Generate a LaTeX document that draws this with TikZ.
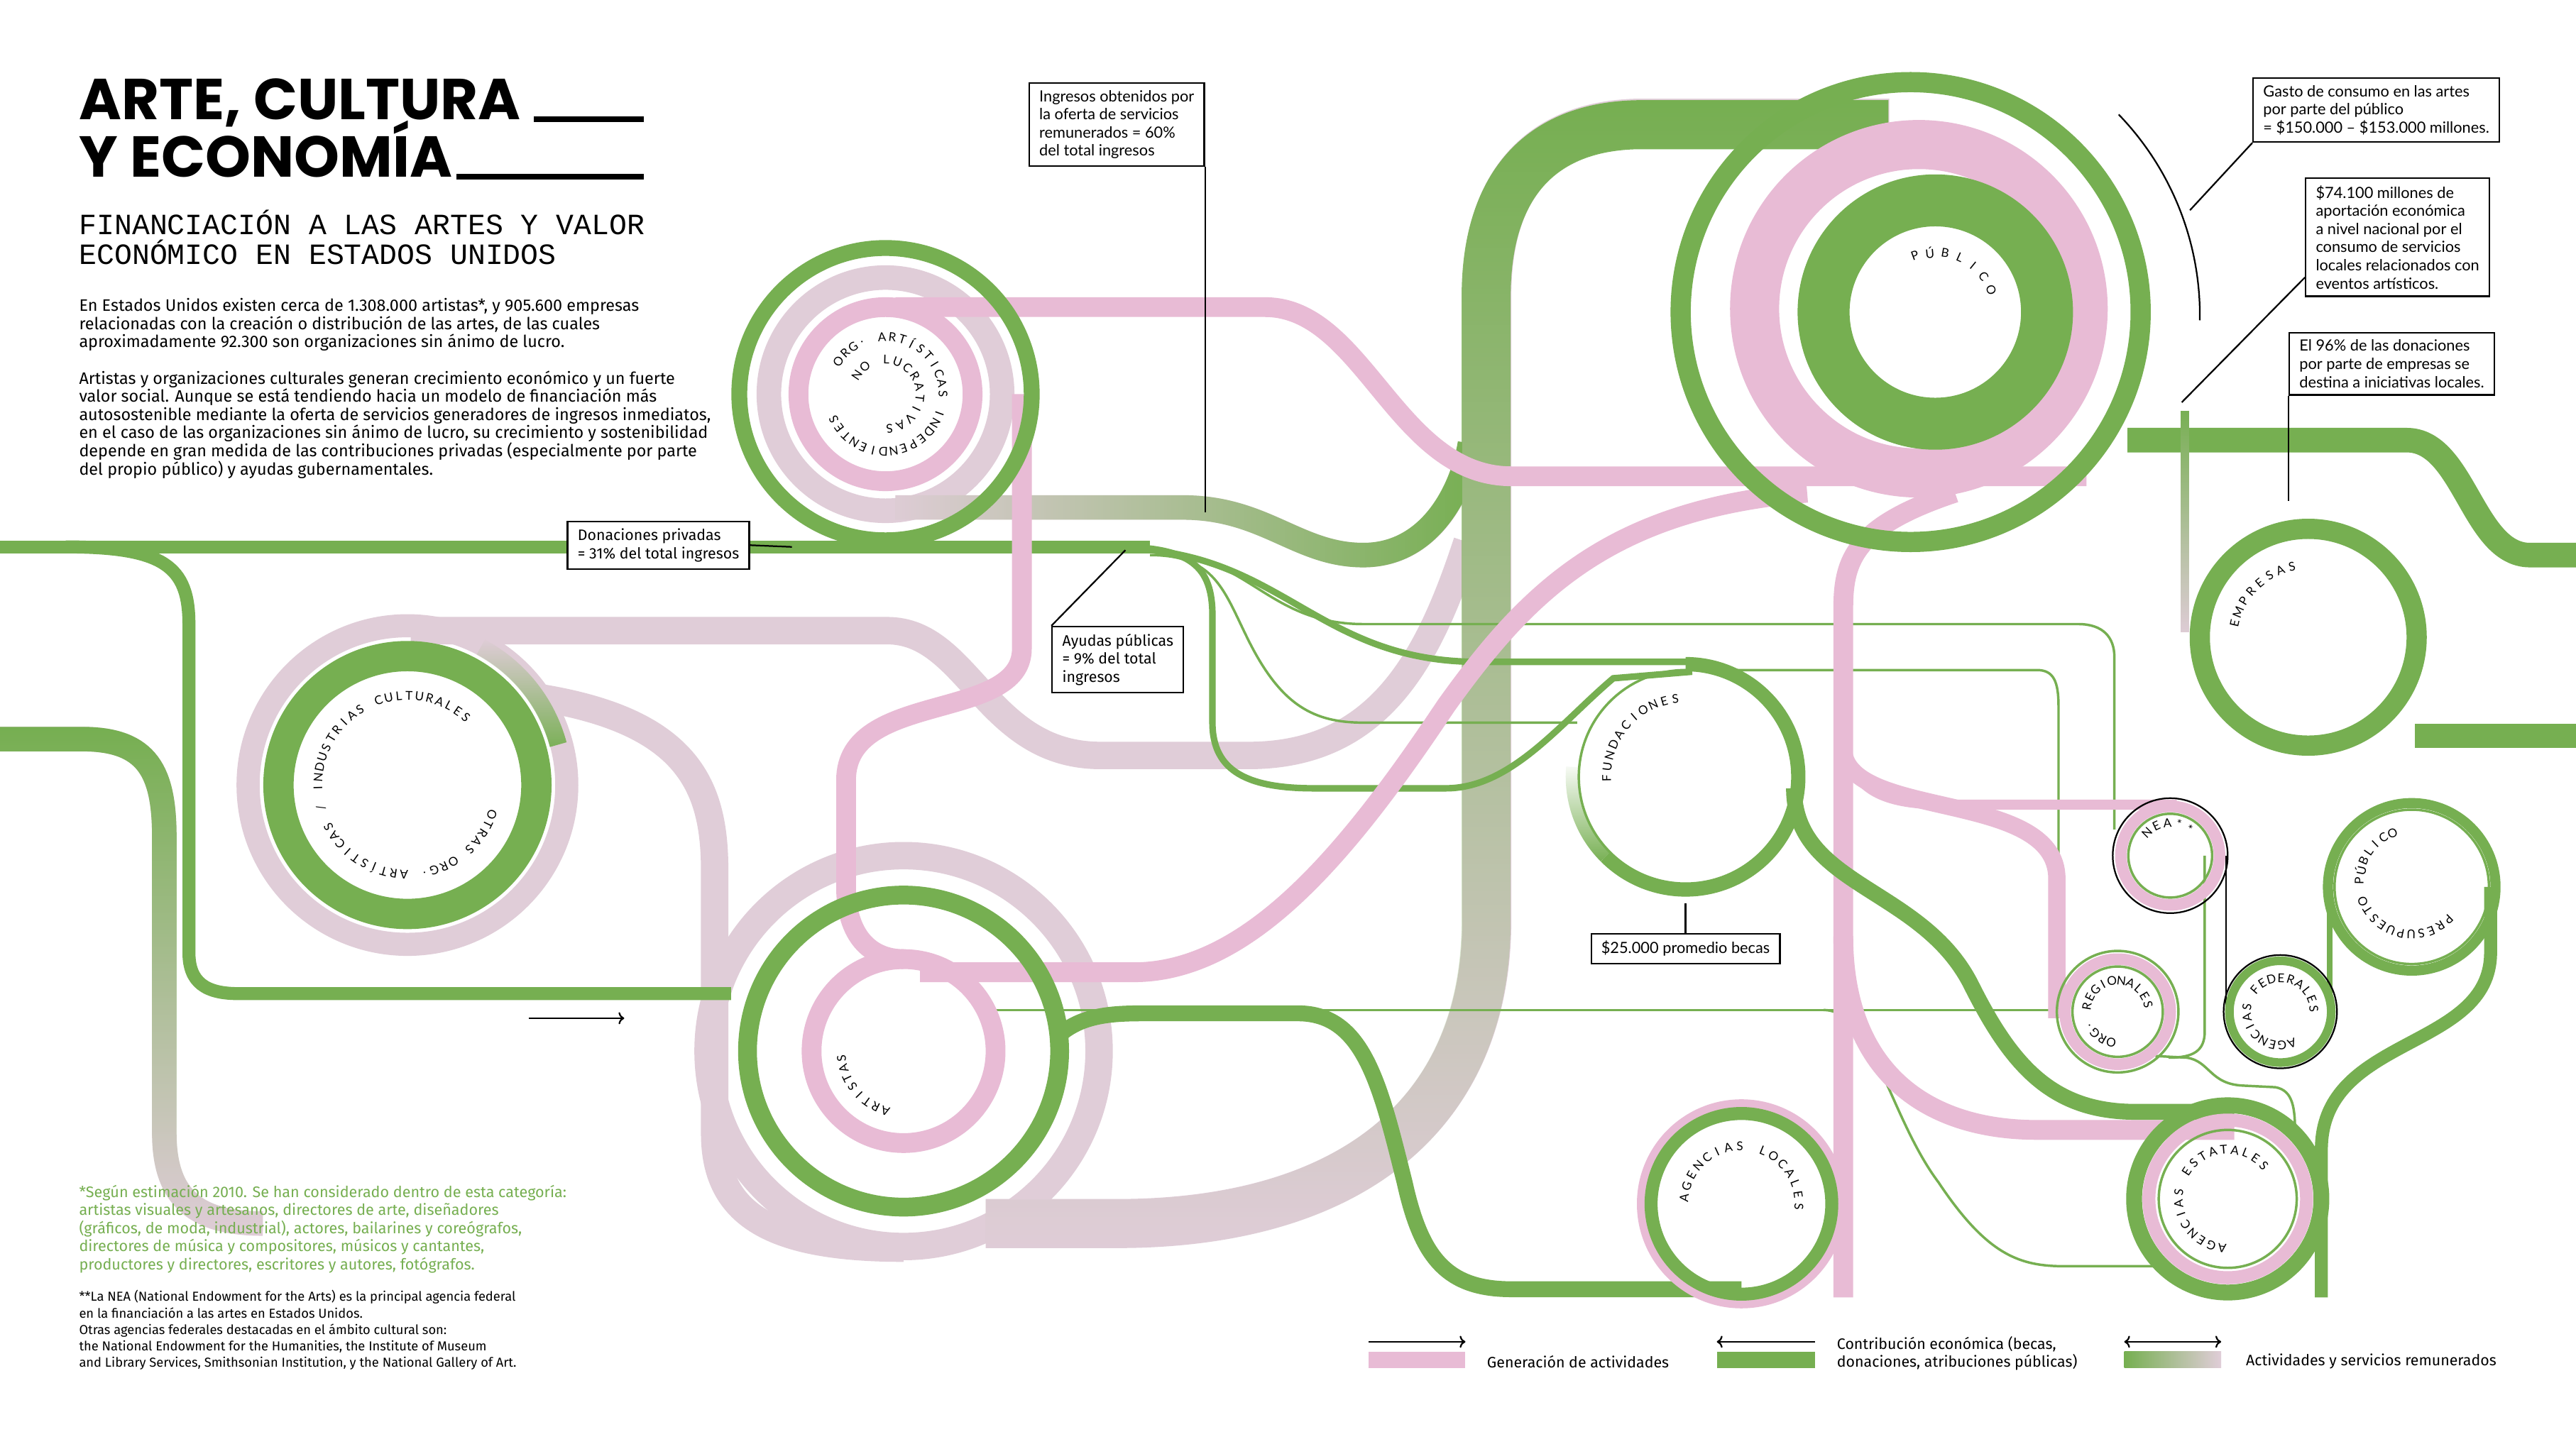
\documentclass[tikz,border=0pt]{standalone}
\usepackage{fontspec}
\setmainfont{Fira Sans}
\newfontfamily\titlefont{Poppins}
\newfontfamily\subfont{Liberation Mono}
\newfontfamily\boxfont{Lato}
\newfontfamily\ringfont{Lato}
\usetikzlibrary{calc,fadings,arrows.meta}

\definecolor{grn}{RGB}{118,175,81}
\definecolor{pnk}{RGB}{232,187,213}
\definecolor{lpk}{RGB}{224,205,216}

% letters set round a circle, clockwise, tops outward
\makeatletter
\newcommand\ringtext[5][6.3]{%
  \pgfmathsetmacro\rt@rr{#3*0.04}%
  \pgfmathsetmacro\rt@step{#1/#3*57.2958}%
  \pgfmathsetmacro\rt@ang{#4}%
  \@tfor\rt@ch:=#5\do{%
    \pgfmathsetmacro\rt@rot{\rt@ang-90}%
    \node[ringletter, rotate=\rt@rot] at ($(#2)+(\rt@ang:\rt@rr cm)$) {\rt@ch};%
    \pgfmathsetmacro\rt@ang{\rt@ang-\rt@step}%
  }}
\makeatother

\begin{document}
\begin{tikzpicture}[x=0.04cm, y=-0.04cm,
    greentrack/.style={draw=grn, line width=9pt},
    wideband/.style={draw=grn, line width=17pt},
    pinktrack/.style={draw=pnk, line width=13.7pt},
    palepath/.style={draw=lpk, line width=19pt},
    thinline/.style={draw=grn, line width=1.7pt},
    midline/.style={draw=grn, line width=4.5pt},
    hairline/.style={draw=grn, line width=1.1pt},
    callout/.style={draw, line width=1.1pt, fill=white, align=left,
      anchor=north west, inner xsep=7pt, inner ysep=5pt,
      font=\boxfont\fontsize{10.7}{12.6}\selectfont},
    condbox/.style={callout, font=\fontsize{10.5}{12.5}\selectfont},
    pointer/.style={line width=1.1pt},
    ringletter/.style={font=\ringfont\fontsize{8.4}{8.4}\selectfont, inner sep=0pt},
    legendarrow/.style={line width=1.1pt},
  ]
  \fill[white] (0,0) rectangle (1568,882);
  \useasboundingbox (0,0) rectangle (1568,882);

  % pale bands (paid activities)
  \draw[lpk, line width=16pt] (248,478) circle[radius=97];
  \draw[palepath] (550,640) circle[radius=119];
  \draw[palepath] (250,384) -- (540,384) .. controls (590,384) and (600,460) .. (670,460)
    -- (760,460) .. controls (840,460) and (870,400) .. (893,330);
  \draw[palepath] (330,425) .. controls (420,440) and (435,480) .. (435,530) -- (435,690)
    .. controls (435,740) and (470,760) .. (550,760);
  \draw[lpk, line width=17pt] (539,240) circle[radius=71];
  \draw[lpk, line width=17pt, postaction={draw=grn, path fading=west}]
    (545,309) -- (720,309) .. controls (770,309) and (790,338) .. (830,338)
    .. controls (870,338) and (890,300) .. (895,270);
  \draw[lpk, line width=17pt, postaction={draw=grn, path fading=south}]
    (0,450) -- (50,450) .. controls (90,450) and (100,470) .. (100,510) -- (100,690)
    .. controls (100,730) and (120,745) .. (160,745);

  % big band from the public
  \draw[lpk, line width=34pt, postaction={draw=grn, path fading=south}]
    (1150,75) -- (1000,75) .. controls (940,75) and (905,110) .. (905,180) -- (905,560)
    .. controls (905,680) and (820,745) .. (680,745) -- (600,745);

  % green tracks
  \draw[greentrack] (0,333) -- (700,333);
  \draw[greentrack] (40,333) .. controls (100,333) and (115,345) .. (115,380) -- (115,580)
    .. controls (115,598) and (125,605) .. (145,605) -- (445,605);
  \draw[midline] (680,333) .. controls (725,333) and (738,345) .. (738,375) -- (738,440)
    .. controls (738,470) and (760,480) .. (800,480) -- (880,480)
    .. controls (920,480) and (950,440) .. (982,413) -- (1030,409);
  \draw[midline] (680,334) .. controls (780,334) and (800,403) .. (900,403) -- (1030,403);
  \draw[thinline] (700,336) .. controls (760,336) and (770,380) .. (830,380) -- (1265,380)
    .. controls (1280,380) and (1287,388) .. (1287,400) -- (1287,505);
  \draw[thinline] (700,338) .. controls (740,338) and (745,360) .. (760,390)
    .. controls (780,430) and (800,440) .. (830,440) -- (960,440);
  \draw[thinline] (1026,408) -- (1240,408) .. controls (1250,408) and (1253,415) .. (1253,430)
    -- (1253,600);
  \draw[thinline] (600,615) -- (1252,615);
  \draw[thinline] (1110,615) .. controls (1140,615) and (1150,680) .. (1180,720)
    .. controls (1210,765) and (1230,771) .. (1257,771) -- (1320,771);
  \draw[greentrack, line width=11pt] (645,630) .. controls (660,617) and (680,617) .. (700,617)
    -- (790,617) .. controls (830,617) and (840,660) .. (855,720)
    .. controls (865,765) and (880,785) .. (920,785) -- (1060,785);

  % pink tracks (activities)
  \draw[pinktrack] (545,187) -- (770,187) .. controls (830,187) and (850,290) .. (920,290)
    -- (1270,290);
  \draw[pinktrack] (1100,300) .. controls (980,310) and (930,360) .. (880,430)
    .. controls (820,520) and (760,592) .. (690,592) -- (560,592);
  \draw[pinktrack] (622,240) -- (622,395) .. controls (622,440) and (515,420) .. (515,475)
    -- (515,540) .. controls (515,570) and (530,584) .. (550,584);
  \draw[pinktrack] (1190,300) .. controls (1130,320) and (1122,340) .. (1122,370) -- (1122,790);
  \draw[pinktrack] (1122,570) .. controls (1122,650) and (1170,688) .. (1240,688) -- (1360,688);
  \draw[pnk, line width=7pt] (1122,440) .. controls (1122,485) and (1150,490) .. (1190,490)
    -- (1325,490);
  \draw[pnk, line width=12pt] (1122,455) .. controls (1122,500) and (1252,480) .. (1252,535)
    -- (1252,620);

  % right side bands
  \draw[wideband] (1295,268) -- (1465,268) .. controls (1500,268) and (1505,338) .. (1540,338)
    -- (1568,338);
  \draw[wideband] (1470,448) -- (1568,448);
  \draw[lpk, line width=6pt, postaction={draw=grn, path fading=south}] (1330,250) -- (1330,385);
  \draw[greentrack, line width=11pt] (1092,480) .. controls (1092,540) and (1170,540) .. (1200,600)
    .. controls (1225,650) and (1250,677) .. (1300,677) -- (1360,677);
  \draw[greentrack] (1516,540) -- (1516,580) .. controls (1516,640) and (1413,630) .. (1413,700)
    -- (1413,790);
  \draw[thinline, line width=4pt] (1418,545) -- (1418,616);
  \draw[thinline] (1342,521) -- (1342,628) .. controls (1342,640) and (1335,644) .. (1320,644);
  \draw[line width=1.1pt] (1355,521) -- (1355,616);
  \draw[thinline] (1312,643) -- (1331,644) .. controls (1345,646) and (1345,660) .. (1365,661)
    -- (1385,662) .. controls (1396,664) and (1397,675) .. (1397,691);

  % rings
  \draw[grn, line width=11pt] (539,240) circle[radius=89];
  \draw[pnk, line width=13.7pt] (539,240) circle[radius=53];
  \draw[grn, line width=21pt] (248,478) circle[radius=78.5];
  \draw[grn, line width=12pt, path fading=north]
    ($(248,478)+(15:3.8cm)$) arc[start angle=15, end angle=62, radius=3.8cm];
  \draw[grn, line width=13pt] (550,640) circle[radius=95];
  \draw[pnk, line width=13.7pt] (550,640) circle[radius=56];
  \draw[grn, line width=14pt] (1163,190) circle[radius=140];
  \draw[pnk, line width=34pt] (1168,188) circle[radius=100];
  \draw[grn, line width=36pt] (1178,190) circle[radius=68];
  \draw[hairline, line width=1.7pt] (1026,473) circle[radius=65];
  \draw[grn, line width=9pt] ($(1026,473)+(90:2.76cm)$) arc[start angle=90, end angle=-135, radius=2.76cm];
  \draw[grn, line width=9pt, path fading=north]
    ($(1026,473)+(225:2.76cm)$) arc[start angle=225, end angle=175, radius=2.76cm];
  \draw[grn, line width=14pt] (1405,388) circle[radius=66];
  \draw[pnk, line width=8pt] (1321,521) circle[radius=30];
  \draw[thinline] (1321,521) circle[radius=25.5];
  \draw[line width=1.1pt] (1321,521) circle[radius=35];
  \draw[pnk, line width=8pt] (1289,616) circle[radius=32];
  \draw[thinline] (1289,616) circle[radius=27.5];
  \draw[thinline] (1289,616) circle[radius=37];
  \draw[grn, line width=6pt] (1388,616) circle[radius=31];
  \draw[line width=1.1pt] (1388,616) circle[radius=34.5];
  \draw[grn, line width=7pt] (1468,540) circle[radius=51];
  \draw[thinline] (1468,540) circle[radius=47];
  \draw[pnk, line width=6pt] (1060,733) circle[radius=61];
  \draw[grn, line width=9pt] (1060,733) circle[radius=55];
  \draw[grn, line width=11pt] (1356,730) circle[radius=57];
  \draw[pnk, line width=9pt] (1356,730) circle[radius=48];
  \draw[thinline] (1356,730) circle[radius=42];

  % circle labels
  \ringtext{539,240}{35}{145}{ORG.~ARTÍSTICAS~INDEPENDIENTES}
  \ringtext[7]{539,240}{21}{146}{NO~LUCRATIVAS}
  \ringtext{248,478}{54.5}{-19.4}{OTRAS~ORG.~ARTÍSTICAS~/~INDUSTRIAS~CULTURALES}
  \ringtext{550,640}{38}{253}{ARTISTAS}
  \ringtext[9.4]{1178,190}{36.5}{110}{PÚBLICO}
  \ringtext[7]{1026,473}{48}{181}{FUNDACIONES}
  \ringtext[7.4]{1405,390}{46}{167}{EMPRESAS}
  \ringtext[7]{1321,521}{20}{135}{NEA**}
  \ringtext[5.8]{1289,616}{19}{258}{ORG.~REGIONALES}
  \ringtext[6]{1388,616}{20.5}{-70}{AGENCIAS~FEDERALES}
  \ringtext{1468,537}{32}{-45.6}{PRESUPUESTO~PÚBLICO}
  \ringtext[7.2]{1060,733}{35}{174}{AGENCIAS~LOCALES}
  \ringtext[6.8]{1356,730}{30}{263.5}{AGENCIAS~ESTATALES}

  % title and texts
  \node[anchor=base west, inner sep=0, font=\titlefont\bfseries\fontsize{40}{40}\selectfont]
    (title1) at (48,73) {ARTE, CULTURA};
  \node[anchor=base west, inner sep=0, font=\titlefont\bfseries\fontsize{40}{40}\selectfont]
    (title2) at (48,108) {Y ECONOMÍA};
  \fill (325,71) rectangle (392,74.5);
  \fill (278,106) rectangle (392,109.5);
  \node[anchor=base west, inner sep=0, font=\subfont\fontsize{20.4}{20}\selectfont]
    (sub1) at (48,143) {FINANCIACIÓN A LAS ARTES Y VALOR};
  \node[anchor=base west, inner sep=0, font=\subfont\fontsize{20.4}{20}\selectfont]
    (sub2) at (48,161) {ECONÓMICO EN ESTADOS UNIDOS};
  \node[anchor=north west, inner sep=0, align=left, font=\fontsize{11.5}{12.6}\selectfont]
    (intro1) at (48,181.5) {En Estados Unidos existen cerca de 1.308.000 artistas*, y 905.600 empresas\\
    relacionadas con la creación o distribución de las artes, de las cuales\\
    aproximadamente 92.300 son organizaciones sin ánimo de lucro.};
  \node[anchor=north west, inner sep=0, align=left, font=\fontsize{11.5}{12.6}\selectfont]
    (intro2) at (48,225.5) {Artistas y organizaciones culturales generan crecimiento económico y un fuerte\\
    valor social. Aunque se está tendiendo hacia un modelo de financiación más\\
    autosostenible mediante la oferta de servicios generadores de ingresos inmediatos,\\
    en el caso de las organizaciones sin ánimo de lucro, su crecimiento y sostenibilidad\\
    depende en gran medida de las contribuciones privadas (especialmente por parte\\
    del propio público) y ayudas gubernamentales.};
  \node[anchor=north west, inner sep=0, align=left, text=grn, font=\fontsize{10.6}{12.5}\selectfont]
    (note1) at (48,721.5) {*Según estimación 2010. Se han considerado dentro de esta categoría:\\
    artistas visuales y artesanos, directores de arte, diseñadores\\
    (gráficos, de moda, industrial), actores, bailarines y coreógrafos,\\
    directores de música y compositores, músicos y cantantes,\\
    productores y directores, escritores y autores, fotógrafos.};
  \node[anchor=north west, inner sep=0, align=left, font=\fontsize{9}{11.4}\selectfont]
    (note2) at (48,785.5) {**La NEA (National Endowment for the Arts) es la principal agencia federal\\
    en la financiación a las artes en Estados Unidos.\\
    Otras agencias federales destacadas en el ámbito cultural son:\\
    the National Endowment for the Humanities, the Institute of Museum\\
    and Library Services, Smithsonian Institution, y the National Gallery of Art.};

  % callouts
  \node[callout] (ingresos) at (626,50) {Ingresos obtenidos por\\la oferta de servicios\\remunerados = 60\%\\del total ingresos};
  \draw[pointer] (ingresos.south east) -- (ingresos.south east |- 0,312);
  \node[condbox] (donaciones) at (345,317) {Donaciones privadas\\= 31\% del total ingresos};
  \draw[pointer] (donaciones.east) -- (482,333);
  \node[condbox] (ayudas) at (640,381) {Ayudas públicas\\= 9\% del total\\ingresos};
  \draw[pointer] (ayudas.north west) -- (685,335);
  \node[callout] (gasto) at (1371,47) {Gasto de consumo en las artes\\por parte del público\\= \$150.000 – \$153.000 millones.};
  \draw[pointer] (gasto.south west) -- (1333,128);
  \draw[pointer] ($(1163,192)+(44:7.04cm)$) arc[start angle=44, end angle=-1, radius=7.04cm];
  \node[callout] (aporte) at (1403,108) {\$74.100 millones de\\aportación económica\\a nivel nacional por el\\consumo de servicios\\locales relacionados con\\eventos artísticos.};
  \draw[pointer] ($(aporte.south west)+(0,-12)$) -- (1328,245);
  \node[callout] (empresas) at (1393,202) {El 96\% de las donaciones\\por parte de empresas se\\destina a iniciativas locales.};
  \draw[pointer] (empresas.south west) -- (empresas.south west |- 0,305);
  \node[callout, anchor=north] (becas) at (1026,568) {\$25.000 promedio becas};
  \draw[pointer] (becas.north) -- (1026,550);

  % small arrow
  \coordinate (arrA) at (322,620);
  \coordinate (arrB) at (380,620);
  \draw[legendarrow, -{To[length=4pt]}] (arrA) -- (arrB);

  % legend
  \coordinate (l1a) at (833,817); \coordinate (l1b) at (892,817);
  \coordinate (l2a) at (1045,817); \coordinate (l2b) at (1105,817);
  \coordinate (l3a) at (1293,817); \coordinate (l3b) at (1352,817);
  \draw[legendarrow, -{To[length=4pt]}] (l1a) -- (l1b);
  \draw[legendarrow, {To[length=4pt]}-] (l2a) -- (l2b);
  \draw[legendarrow, {To[length=4pt]}-{To[length=4pt]}] (l3a) -- (l3b);
  \fill[pnk] (833,823) rectangle (892,833);
  \fill[grn] (1045,823) rectangle (1105,833);
  \shade[left color=grn, right color=lpk] (1293,823) rectangle (1352,833);
  \node[anchor=west, inner sep=0, font=\fontsize{10.5}{12.5}\selectfont] (leg1) at (905,829) {Generación de actividades};
  \node[anchor=west, inner sep=0, align=left, font=\fontsize{10.5}{12.5}\selectfont] (leg2) at (1118,824) {Contribución económica (becas,\\donaciones, atribuciones públicas)};
  \node[anchor=west, inner sep=0, font=\fontsize{10.5}{12.5}\selectfont] (leg3) at (1367,829) {Actividades y servicios remunerados};
\end{tikzpicture}
\end{document}
